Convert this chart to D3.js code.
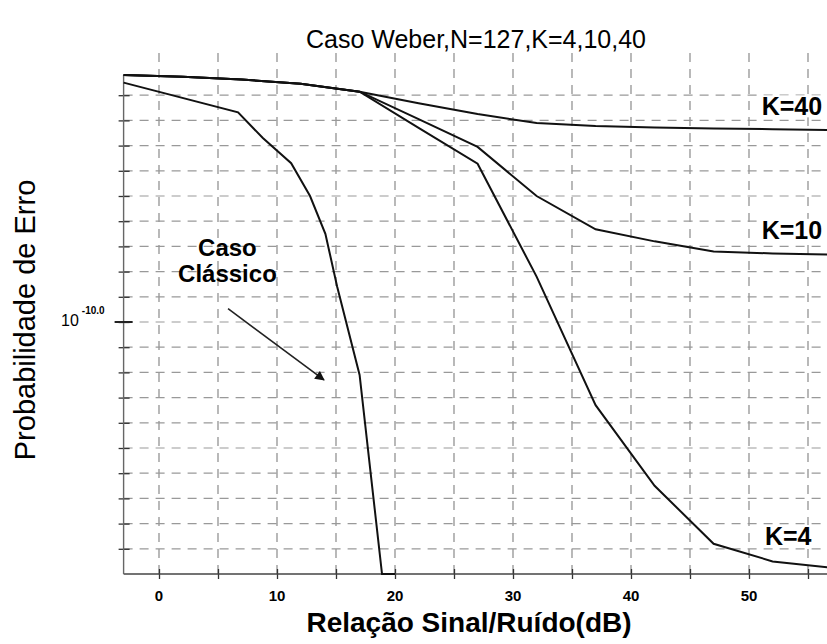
<!DOCTYPE html>
<html>
<head>
<meta charset="utf-8">
<script src="https://cdn.jsdelivr.net/npm/d3@7"></script>
<style>
    body { margin: 0; background: #fff; }
    text { font-family: "Liberation Sans", Arial, sans-serif; fill: #000; }
</style>
</head>
<body>
<svg width="827" height="644"></svg>
<script>
// SNR (dB) at which the K curves were computed
const snrK = [-3, 2, 7, 12, 17, 22, 27, 32, 37, 42, 47, 52, 57];
// log10 of the error probability
const logPeK40 = [-0.2, -0.27, -0.38, -0.55, -0.86, -1.32, -1.75, -2.1, -2.22, -2.28, -2.32, -2.35, -2.38];
const logPeK10 = [-0.2, -0.27, -0.38, -0.55, -0.86, -1.95, -3.05, -5.0, -6.32, -6.8, -7.2, -7.28, -7.32];
const logPeK4 = [-0.2, -0.27, -0.38, -0.55, -0.86, -2.3, -3.72, -8.2, -13.3, -16.5, -18.8, -19.5, -19.75];

// classic case (no Weber noise)
const snrClassic = [-3, 6.7, 8.8, 11.2, 12.8, 14.1, 15.1, 17.0, 18.9, 20];
const logPeClassic = [-0.5, -1.68, -2.7, -3.7, -5.0, -6.5, -8.6, -12.1, -20, -20];

const xGrid = [0, 5, 10, 15, 20, 25, 30, 35, 40, 45, 50, 55];
const xTickLabels = [0, 10, 20, 30, 40, 50];
const yGrid = d3.range(-19, 0);
const curveNames = ["K=40", "K=10", "K=4"];

function drawErrorChart() {
    let svg = d3.select("svg");

    let x = d3.scaleLinear().domain([-3, 57]).range([123.6, 831.6]);
    let y = d3.scaleLinear().domain([-20, -1]).range([574, 95.2]);
    let yTop = y(0.9);

    let line = d3.line()
        .x(function (d) { return x(d[0]); })
        .y(function (d) { return y(d[1]); });

    // title
    svg.append("text")
        .attr("x", 476).attr("y", 48)
        .attr("text-anchor", "middle")
        .style("font-size", "25px")
        .text("Caso Weber,N=127,K=4,10,40");

    // dashed grid
    svg.append("g").selectAll("line")
        .data(xGrid)
        .enter()
        .append("line")
        .attr("x1", function (d) { return x(d); })
        .attr("x2", function (d) { return x(d); })
        .attr("y1", y(-20))
        .attr("y2", yTop)
        .style("stroke", "#8a8a8a")
        .style("stroke-width", 1.2)
        .style("stroke-dasharray", "9,7");

    svg.append("g").selectAll("line")
        .data(yGrid)
        .enter()
        .append("line")
        .attr("x1", x(-3))
        .attr("x2", 827)
        .attr("y1", function (d) { return y(d); })
        .attr("y2", function (d) { return y(d); })
        .style("stroke", "#999")
        .style("stroke-width", 1.2)
        .style("stroke-dasharray", "9,7");

    // axes with crossing ticks
    let xAxis = d3.axisBottom(x)
        .tickValues(xGrid)
        .tickSize(5)
        .tickFormat("");
    let gx = svg.append("g")
        .attr("transform", "translate(0," + y(-20) + ")")
        .call(xAxis);
    gx.select(".domain").remove();
    gx.selectAll(".tick line").attr("y1", -5).style("stroke", "#333").style("stroke-width", 1.3);
    svg.append("line")
        .attr("x1", x(-3)).attr("x2", 827)
        .attr("y1", y(-20)).attr("y2", y(-20))
        .style("stroke", "#444").style("stroke-width", 1.6);

    let yAxis = d3.axisLeft(y)
        .tickValues(yGrid)
        .tickSize(5)
        .tickFormat("");
    let gy = svg.append("g")
        .attr("transform", "translate(" + x(-3) + ",0)")
        .call(yAxis);
    gy.select(".domain").remove();
    gy.selectAll(".tick line").attr("x1", 6).style("stroke", "#333").style("stroke-width", 1.3);
    svg.append("line")
        .attr("x1", x(-3)).attr("x2", x(-3))
        .attr("y1", y(-20)).attr("y2", y(-0.2))
        .style("stroke", "#666").style("stroke-width", 1.4);

    // long tick at 10^-10
    svg.append("line")
        .attr("x1", x(-3) - 9).attr("x2", x(-3) + 9)
        .attr("y1", y(-10)).attr("y2", y(-10))
        .style("stroke", "#222").style("stroke-width", 2);

    svg.append("g").selectAll("text")
        .data(xTickLabels)
        .enter()
        .append("text")
        .attr("x", function (d) { return x(d); })
        .attr("y", 601)
        .attr("text-anchor", "middle")
        .style("font-size", "15px")
        .style("font-weight", "bold")
        .text(function (d) { return d; });

    let yLab = svg.append("text")
        .attr("x", 61)
        .attr("y", y(-10) + 4)
        .style("font-size", "16px")
        .text("10");
    yLab.append("tspan")
        .attr("dx", 3)
        .attr("dy", -12)
        .style("font-size", "10px")
        .style("font-weight", "bold")
        .text("-10.0");

    // axis titles
    svg.append("text")
        .attr("x", 469).attr("y", 632)
        .attr("text-anchor", "middle")
        .style("font-size", "28px")
        .style("font-weight", "bold")
        .text("Relação Sinal/Ruído(dB)");

    svg.append("text")
        .attr("transform", "translate(35,320) rotate(-90)")
        .attr("text-anchor", "middle")
        .style("font-size", "29px")
        .text("Probabilidade de Erro");

    // curves
    let plot = svg.append("g");
    [logPeK40, logPeK10, logPeK4].forEach(function (vals) {
        plot.append("path")
            .datum(d3.zip(snrK, vals))
            .attr("d", line)
            .style("fill", "none")
            .style("stroke", "#111")
            .style("stroke-width", 2);
    });
    plot.append("path")
        .datum(d3.zip(snrClassic, logPeClassic))
        .attr("d", line)
        .style("fill", "none")
        .style("stroke", "#111")
        .style("stroke-width", 2);

    // curve labels on white boxes
    let labelPos = [[56.2, -1.8], [56.2, -6.7], [55.3, -18.85]];
    curveNames.forEach(function (name, i) {
        let t = svg.append("text")
            .attr("x", x(labelPos[i][0]))
            .attr("y", y(labelPos[i][1]))
            .attr("text-anchor", "end")
            .style("font-size", "25px")
            .style("font-weight", "bold")
            .text(name);
        let b = t.node().getBBox();
        svg.insert("rect", function () { return t.node(); })
            .attr("x", b.x - 3).attr("y", b.y + 3)
            .attr("width", b.width + 6).attr("height", b.height - 6)
            .style("fill", "#fff");
    });

    // "Caso Clássico" annotation with arrow
    svg.append("defs").append("marker")
        .attr("id", "head")
        .attr("viewBox", "0 0 10 10")
        .attr("refX", 9).attr("refY", 5)
        .attr("markerWidth", 7).attr("markerHeight", 6)
        .attr("orient", "auto")
        .append("path")
        .attr("d", "M0,0L10,5L0,10Z")
        .style("fill", "#111");

    let note = svg.append("text")
        .attr("x", x(5.8))
        .attr("text-anchor", "middle")
        .style("font-size", "24px")
        .style("font-weight", "bold");
    note.append("tspan").attr("x", x(5.8)).attr("y", y(-7.4)).text("Caso");
    note.append("tspan").attr("x", x(5.8)).attr("y", y(-8.4)).text("Clássico");

    svg.append("line")
        .attr("x1", x(5.85)).attr("y1", y(-9.47))
        .attr("x2", x(13.98)).attr("y2", y(-12.3))
        .style("stroke", "#222")
        .style("stroke-width", 1.6)
        .attr("marker-end", "url(#head)");
}

drawErrorChart();
</script>
</body>
</html>
